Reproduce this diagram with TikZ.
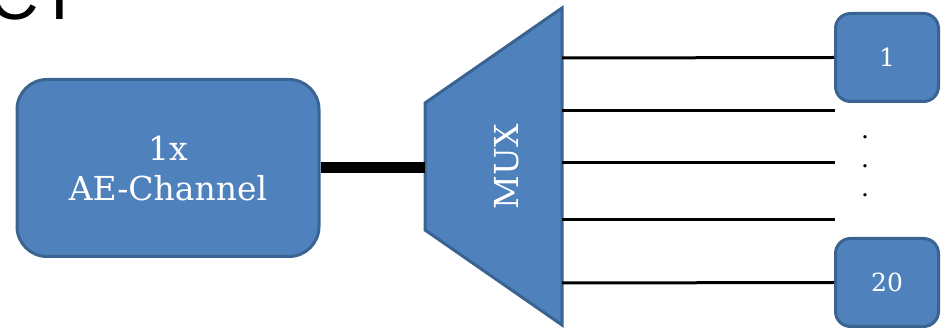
\documentclass[tikz,border=0pt]{standalone}
\usepackage{fontspec}
\setmainfont{DejaVu Serif}
\newfontfamily\titlefont{Liberation Sans}
\usetikzlibrary{positioning}
\definecolor{boxblue}{HTML}{4F81BD}
\definecolor{boxedge}{HTML}{3B6391}
\tikzset{block/.style={draw=boxedge, line width=3pt, fill=boxblue, text=white},
         wire/.style={line width=3pt},
         bigfont/.style={font=\fontsize{33}{40}\selectfont},
         numfont/.style={font=\fontsize{25}{29}\selectfont}}

\begin{document}
\begin{tikzpicture}[x=1pt, y=-1pt]
\useasboundingbox (0,0) rectangle (946,328);
% cut-off title
\node[anchor=base west, inner sep=0pt, font=\titlefont\fontsize{70}{70}\selectfont] (title) at (-12,20) {CT};
% input channel
\node[block, rounded corners=30pt, minimum width=302pt, minimum height=177pt, bigfont, align=center] (ae) at (168,168) {1x\\AE-Channel};
% mux
\draw[block] (425,103) -- (562,8) -- (562,325) -- (425,230) -- cycle;
\node[bigfont, text=white, rotate=90] (mux) at (507,167) {MUX};
\coordinate (min) at (425,168);
\coordinate (m1) at (562,58);
\coordinate (m2) at (562,111);
\coordinate (m3) at (562,163);
\coordinate (m4) at (562,220);
\coordinate (m5) at (562,283);
% outputs
\node[block, rounded corners=15pt, minimum width=103pt, minimum height=88pt, numfont] (o1) at (887,57.5) {1};
\node[block, rounded corners=15pt, minimum width=103pt, minimum height=88pt, numfont] (o20) at (887,282.5) {20};
\node[numfont, align=center, text=black] (dots) at (865,166) {.\\.\\.};
\coordinate (e2) at (835,111);
\coordinate (e3) at (835,163);
\coordinate (e4) at (835,220);
% connections
\draw[line width=11pt] (ae.east) -- (min);
\draw[wire] (m1) -- (o1.west);
\draw[wire] (m2) -- (e2);
\draw[wire] (m3) -- (e3);
\draw[wire] (m4) -- (e4);
\draw[wire] (m5) -- (o20.west);
\end{tikzpicture}
\end{document}
